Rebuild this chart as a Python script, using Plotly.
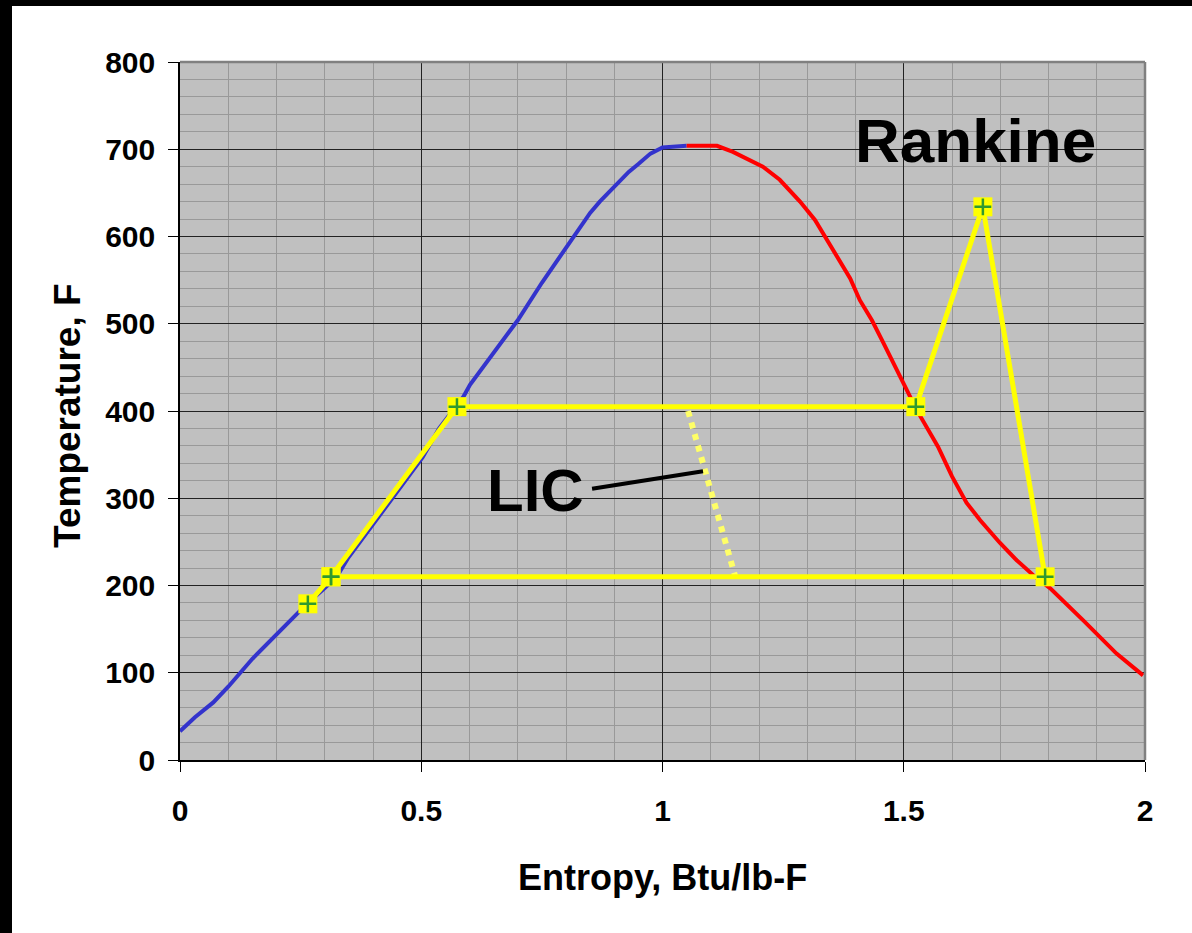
import plotly.graph_objects as go

# saturated liquid (blue) and vapour (red) lines
liquid_s = [0.0, 0.031, 0.069, 0.1, 0.15, 0.2, 0.25, 0.265, 0.3, 0.325, 0.349, 0.38, 0.408, 0.452,
            0.503, 0.537, 0.566, 0.587, 0.601, 0.65, 0.7, 0.75, 0.8, 0.85, 0.87, 0.9, 0.93,
            0.95, 0.975, 1.0, 1.05]
liquid_T = [33, 49, 66, 84, 116, 144, 172, 180, 197, 210, 232, 255, 276, 309,
            347, 380, 400, 416, 430, 466, 504, 547, 588, 627, 640, 657, 674,
            683, 695, 702, 704]

vapor_s = [1.05, 1.113, 1.146, 1.181, 1.208, 1.243, 1.285, 1.316, 1.347, 1.389, 1.409, 1.434,
           1.457, 1.478, 1.499, 1.527, 1.571, 1.6, 1.63, 1.658, 1.699, 1.734, 1.768, 1.803,
           1.872, 1.941, 1.996]
vapor_T = [704, 704, 697, 688, 680, 665, 640, 619, 590, 552, 527, 504,
           479, 455, 432, 401, 359, 325, 295, 275, 249, 229, 212, 197,
           160, 122, 97]

# Rankine cycle state points
cycle_s = [0.265, 0.313, 0.574, 1.525, 1.664, 1.793, 0.313]
cycle_T = [179, 210, 405, 405, 634, 210, 210]

# LIC dotted line
lic_s = [1.053, 1.154]
lic_T = [400, 204]

FONT = "Liberation Sans, Arial, sans-serif"

fig = go.Figure()

fig.add_trace(go.Scatter(x=liquid_s, y=liquid_T, mode="lines",
                         line=dict(color="#3333CC", width=4)))
fig.add_trace(go.Scatter(x=vapor_s, y=vapor_T, mode="lines",
                         line=dict(color="#FF0000", width=4)))
fig.add_trace(go.Scatter(x=lic_s, y=lic_T, mode="lines",
                         line=dict(color="#FFFF66", width=6, dash="dot")))
fig.add_trace(go.Scatter(x=cycle_s, y=cycle_T, mode="lines+markers",
                         line=dict(color="#FFFF00", width=5),
                         marker=dict(symbol="square", size=19, color="#FFFF00")))
fig.add_trace(go.Scatter(x=cycle_s, y=cycle_T, mode="markers",
                         marker=dict(symbol="cross-thin", size=12,
                                     line=dict(color="#2F9A2F", width=2.5))))

axis_common = dict(
    showline=True, linecolor="black", linewidth=1.5,
    ticks="outside", ticklen=10, tickcolor="black",
    showgrid=True, gridcolor="#222222", gridwidth=1,
    zeroline=False,
    tickfont=dict(family=FONT, size=30, color="black", weight="bold"),
)

fig.update_xaxes(range=[0, 2], tickvals=[0, 0.5, 1, 1.5, 2],
                 ticktext=["0", "0.5", "1", "1.5", "2"],
                 minor=dict(dtick=0.1, showgrid=True, gridcolor="#999999", gridwidth=1),
                 ticklabelstandoff=13, **axis_common)
fig.update_yaxes(range=[0, 800], dtick=100,
                 minor=dict(dtick=20, showgrid=True, gridcolor="#999999", gridwidth=1),
                 ticklabelstandoff=7, **axis_common)

fig.add_annotation(x=1.648, y=710, text="Rankine", showarrow=False,
                   font=dict(family=FONT, size=62, color="black", weight="bold"))
fig.add_annotation(x=0.736, y=309, text="LIC", showarrow=False,
                   font=dict(family=FONT, size=60, color="black", weight="bold"))
fig.add_shape(type="line", x0=0.854, y0=311, x1=1.084, y1=331,
              line=dict(color="black", width=4))

# axis titles
fig.add_annotation(xref="paper", yref="paper", x=0.5, y=-0.168, text="Entropy, Btu/lb-F",
                   showarrow=False, yanchor="middle",
                   font=dict(family=FONT, size=36, color="black", weight="bold"))
fig.add_annotation(xref="paper", yref="paper", x=-0.116, y=0.493, text="Temperature, F",
                   showarrow=False, textangle=-90, xanchor="center",
                   font=dict(family=FONT, size=37, color="black", weight="bold"))

# grey frame on top and right of the plot area
fig.add_shape(type="line", xref="paper", yref="paper", x0=0, y0=1, x1=1, y1=1,
              line=dict(color="#808080", width=2.5))
fig.add_shape(type="line", xref="paper", yref="paper", x0=1, y0=0, x1=1, y1=1,
              line=dict(color="#808080", width=2.5))

# black page border (top and left)
fig.add_shape(type="rect", xref="paper", yref="paper", xsizemode="pixel", xanchor=0,
              x0=-185, x1=-168, y0=-1, y1=2, fillcolor="black", line_width=0)
fig.add_shape(type="rect", xref="paper", yref="paper", ysizemode="pixel", yanchor=1,
              y0=56, y1=70, x0=-1, x1=2, fillcolor="black", line_width=0)

fig.update_layout(
    width=1192, height=933,
    margin=dict(l=180, r=47, t=62, b=173),
    plot_bgcolor="#C0C0C0", paper_bgcolor="white",
    showlegend=False,
)

fig.write_html("out.html", config={"displayModeBar": False},
               post_script="document.body.style.margin='0';")
